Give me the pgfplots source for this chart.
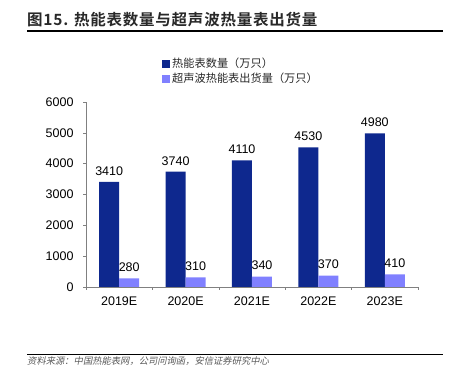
\documentclass[border=0pt]{standalone}
\usepackage{pgfplots}
\pgfplotsset{compat=1.18}
\usepackage{fontspec}
\setmainfont{Liberation Sans}
\newfontfamily\cjk{Noto Sans CJK SC}
\newfontfamily\cjkb{Noto Sans CJK SC Bold}[LetterSpace=5]
\newfontfamily\cjkit{Noto Sans CJK SC}[FakeSlant=0.2]
\definecolor{darkbar}{RGB}{14,40,142}
\definecolor{lightbar}{RGB}{128,128,255}
\definecolor{axgray}{RGB}{128,128,128}
\definecolor{txt}{RGB}{40,40,40}
\begin{document}
\begin{tikzpicture}[x=1pt,y=1pt]
\path[use as bounding box] (0,0) rectangle (456,386);
\node[anchor=west,inner sep=0pt,text=txt,font=\cjkb\fontsize{15.5}{18}\selectfont] at (27,366) {图15. 热能表数量与超声波热量表出货量};
\draw[black,line width=1.2pt] (27,355) -- (443,355);
\draw[black,line width=1pt] (27,31) -- (443,31);
\node[anchor=west,inner sep=0pt,text=black!65,font=\cjkit\fontsize{9.3}{11}\selectfont] at (27,25) {资料来源：中国热能表网，公司问询函，安信证券研究中心};
\begin{axis}[
  at={(86pt,99pt)}, anchor=south west,
  scale only axis, width=332pt, height=185pt,
  ybar=0pt, bar width=20pt,
  xmin=-0.5, xmax=4.5, ymin=0, ymax=6000,
  axis x line*=bottom, axis y line*=left,
  axis line style={axgray,-},
  every tick/.style={axgray},
  tick align=outside, major tick length=3pt,
  xtick={-0.5,0.5,1.5,2.5,3.5,4.5}, xticklabels={},
  extra x ticks={0,1,2,3,4},
  extra x tick labels={2019E,2020E,2021E,2022E,2023E},
  extra x tick style={major tick length=0pt, ticklabel style={yshift=-6pt}},
  ytick={0,1000,...,6000},
  yticklabel style={xshift=-6pt},
  scaled y ticks=false,
  /pgf/number format/assume math mode=true,
  /pgf/number format/1000 sep={},
  tick label style={font=\fontsize{12.5}{14}\selectfont, text=black},
  nodes near coords,
  every node near coord/.append style={font=\fontsize{12.5}{14}\selectfont, text=black, yshift=3pt},
  legend style={at={(0.229,1.25)}, anchor=north west, draw=none, fill=none,
    font=\cjk\fontsize{11.2}{13}\selectfont, text=txt, row sep=0pt,
    legend cell align=left, inner sep=0pt},
  legend image code/.code={\path[#1,draw=none] (0pt,-4pt) rectangle (8pt,4pt);},
]
\addplot[fill=darkbar, draw=none] coordinates {(0,3410) (1,3740) (2,4110) (3,4530) (4,4980)};
\addplot[fill=lightbar, draw=none] coordinates {(0,280) (1,310) (2,340) (3,370) (4,410)};
\legend{热能表数量（万只）, 超声波热能表出货量（万只）}
\end{axis}
\end{tikzpicture}
\end{document}
